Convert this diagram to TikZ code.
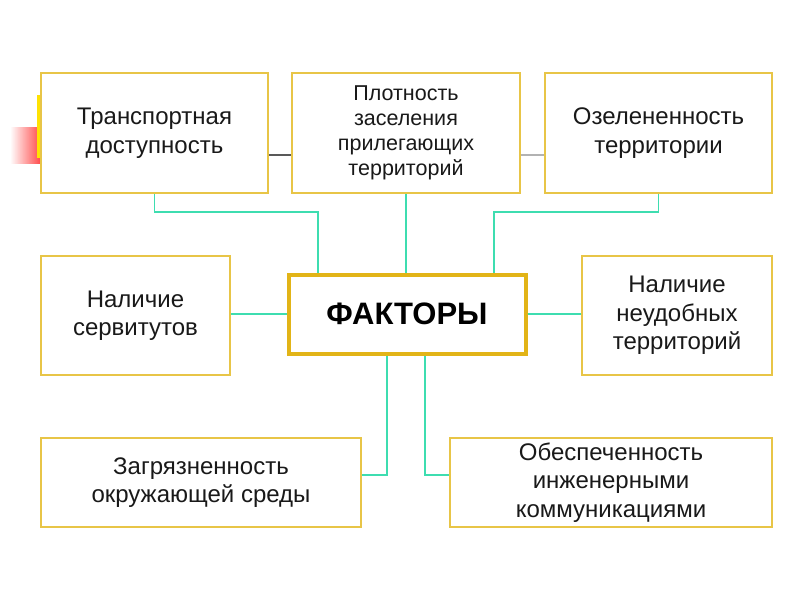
\documentclass[tikz,border=0pt]{standalone}
\usepackage{fontspec}
\setmainfont{Liberation Sans}
\usepackage{xcolor}
\usepackage{tikz}

\definecolor{boxgold}{HTML}{E8C547}
\definecolor{coregold}{HTML}{E2B417}
\definecolor{linkteal}{HTML}{3EDDB0}

\begin{document}
\begin{tikzpicture}[x=1pt,y=-1pt]
\tikzstyle{every node}+=[inner sep=0pt]
\tikzstyle{factor}=[draw=boxgold, line width=1.6pt, fill=white, align=center,
  text=black!90, font=\fontsize{24}{28.5}\selectfont]
\tikzstyle{core}=[draw=coregold, line width=4pt, fill=white,
  font=\fontsize{31}{36}\selectfont\bfseries]
\tikzstyle{link}=[linkteal, line width=1.8pt]
\useasboundingbox (0,0) rectangle (800,600);
% slide leftovers behind the first box
\shade [left color=white, right color=red!80, opacity=0.9] (10,127) rectangle (41,163);
\fill [yellow!85!orange] (37,95) rectangle (42,158);
% top row
\node [factor, minimum width=227pt, minimum height=120pt] (trans) at (154.5,133) {Транспортная\\доступность};
\node [factor, minimum width=228pt, minimum height=120pt, font=\fontsize{21.5}{25}\selectfont] (plot) at (406,133) {Плотность\\заселения\\прилегающих\\территорий};
\node [factor, minimum width=227pt, minimum height=120pt] (ozel) at (658.5,133) {Озелененность\\территории};
% middle row
\node [factor, minimum width=189pt, minimum height=119pt] (serv) at (135.5,315.5) {Наличие\\сервитутов};
\node [core, minimum width=237pt, minimum height=79pt] (fakt) at (407,314) {ФАКТОРЫ};
\node [factor, minimum width=190pt, minimum height=119pt] (neud) at (677,315.5) {Наличие\\неудобных\\территорий};
% bottom row
\node [factor, minimum width=320pt, minimum height=89pt] (zagr) at (201,482.5) {Загрязненность\\окружающей среды};
\node [factor, minimum width=322pt, minimum height=89pt] (obes) at (611,482.5) {Обеспеченность\\инженерными\\коммуникациями};
% grey ties between top boxes
\coordinate (g) at (0,155);
\draw [black!65, line width=2.5pt] (trans.east |- g) -- (plot.west |- g);
\draw [black!30, line width=2.5pt] (plot.east |- g) -- (ozel.west |- g);
% connectors
\coordinate (j1) at (318,212);
\coordinate (j3) at (494,212);
\coordinate (j7) at (387,475);
\coordinate (j8) at (425,475);
\draw [link] (trans.south) |- (j1) -- (j1 |- fakt.north);
\draw [link] (plot.south) -- (plot.south |- fakt.north);
\draw [link] (ozel.south) |- (j3) -- (j3 |- fakt.north);
\draw [link] (serv.east |- fakt.west) -- (fakt.west);
\draw [link] (fakt.east) -- (fakt.east -| neud.west);
\draw [link] (j7 |- fakt.south) -- (j7) -- (j7 -| zagr.east);
\draw [link] (j8 |- fakt.south) -- (j8) -- (j8 -| obes.west);
\end{tikzpicture}
\end{document}
